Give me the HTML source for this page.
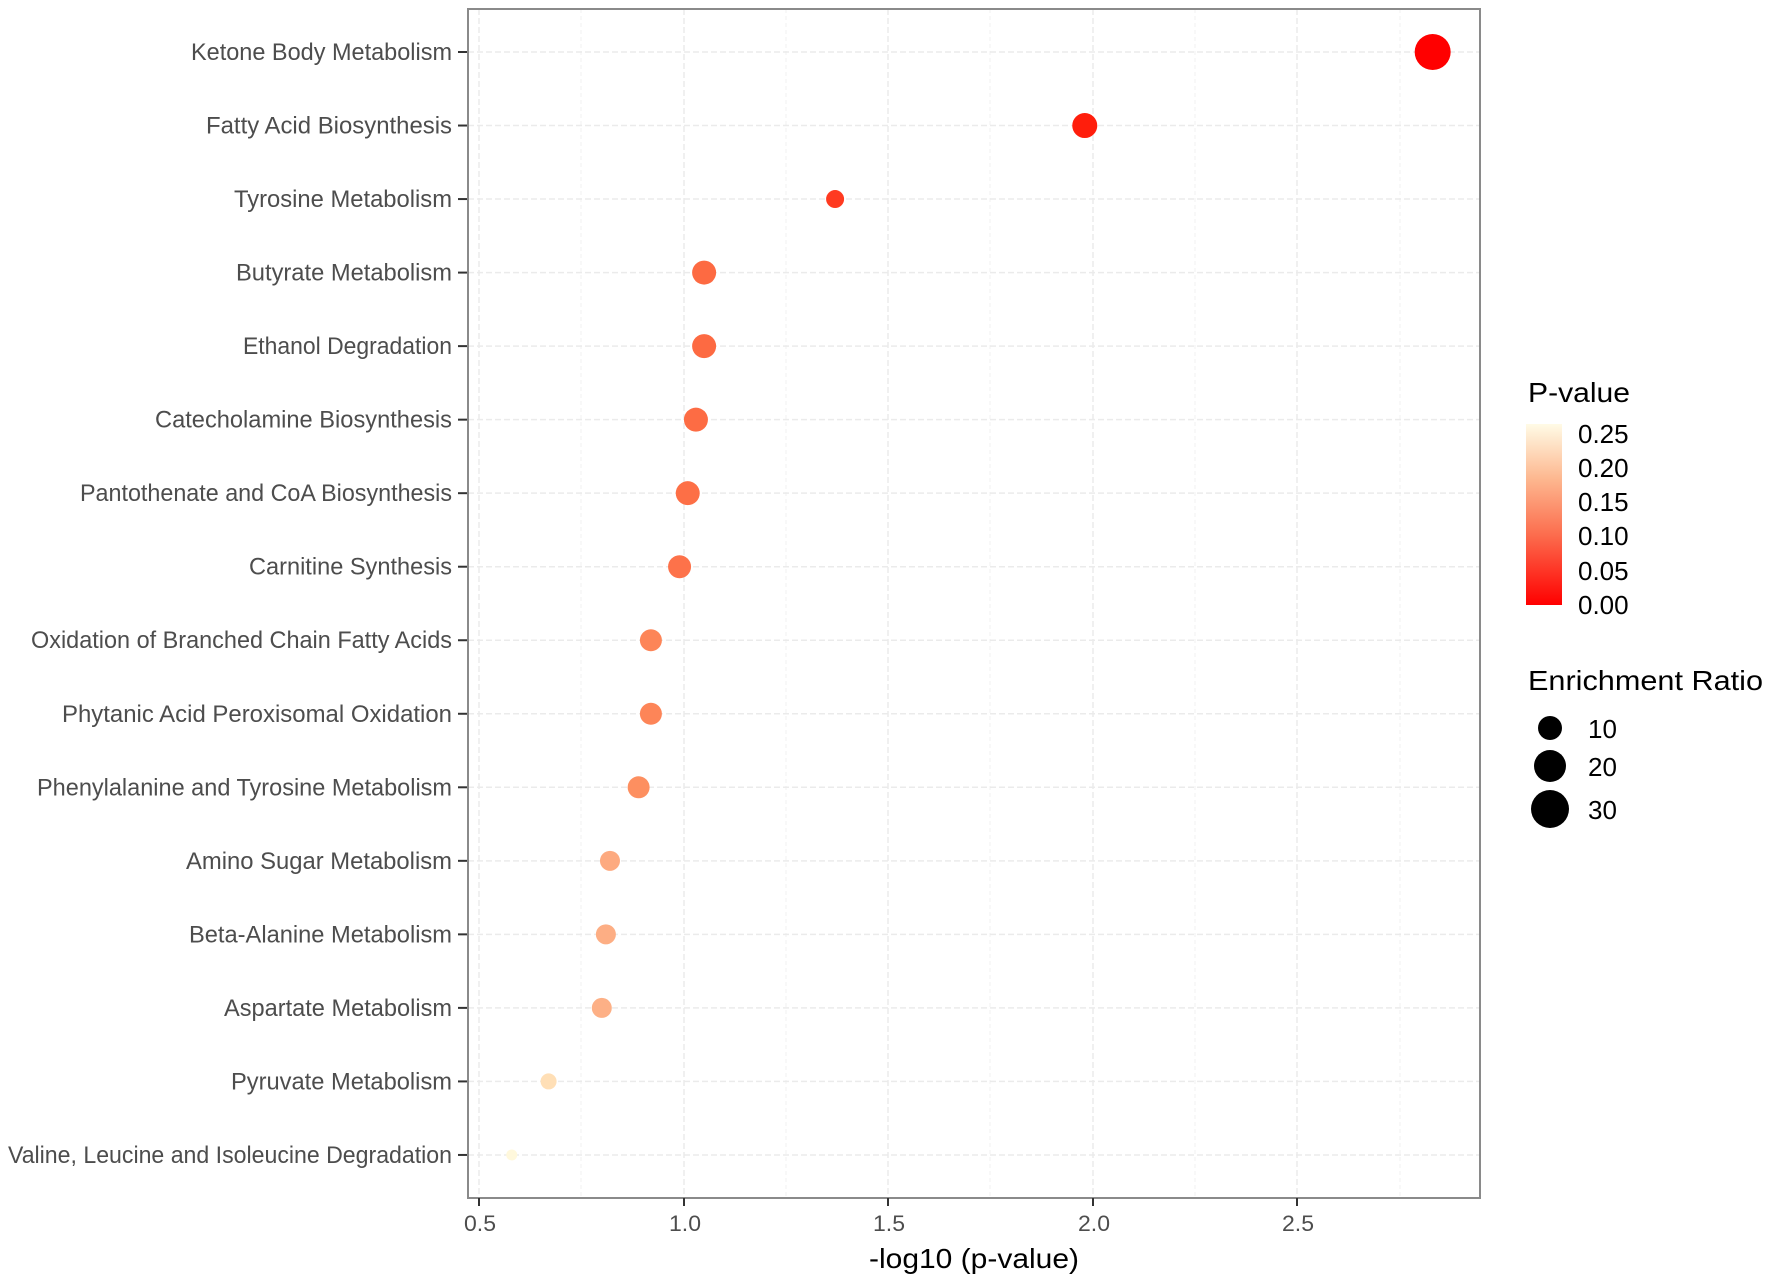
<!DOCTYPE html>
<html><head><meta charset="utf-8"><style>html,body{margin:0;padding:0;background:#fff}svg{display:block}</style></head>
<body>
<svg width="1772" height="1284" viewBox="0 0 1772 1284" xmlns="http://www.w3.org/2000/svg" font-family="'Liberation Sans', sans-serif">
<defs>
<linearGradient id="g" x1="0" y1="1" x2="0" y2="0">
<stop offset="0" stop-color="#ff0000"/><stop offset="0.4" stop-color="#fc7050"/><stop offset="0.7" stop-color="#fdb890"/><stop offset="1" stop-color="#fffbe6"/>
</linearGradient>
</defs>
<rect x="468" y="9" width="1012" height="1189" fill="#fff"/>
<g stroke="#f2f2f2" stroke-width="1.2" stroke-dasharray="4,3">
<line x1="581" y1="9" x2="581" y2="1198"/><line x1="786" y1="9" x2="786" y2="1198"/><line x1="990" y1="9" x2="990" y2="1198"/><line x1="1195" y1="9" x2="1195" y2="1198"/><line x1="1400" y1="9" x2="1400" y2="1198"/>
</g>
<g stroke="#ebebeb" stroke-width="1.5" stroke-dasharray="6,3">
<line x1="479" y1="9" x2="479" y2="1198"/><line x1="684" y1="9" x2="684" y2="1198"/><line x1="888" y1="9" x2="888" y2="1198"/><line x1="1093" y1="9" x2="1093" y2="1198"/><line x1="1297" y1="9" x2="1297" y2="1198"/>
</g>
<g stroke="#ebebeb" stroke-width="1.5" stroke-dasharray="6,3" id="hg"></g>
<g id="pts"></g>
<rect x="468" y="9" width="1012" height="1189" fill="none" stroke="#8a8a8a" stroke-width="2"/>
<g stroke="#333" stroke-width="2">
<line x1="479" y1="1198" x2="479" y2="1206"/><line x1="684" y1="1198" x2="684" y2="1206"/><line x1="888" y1="1198" x2="888" y2="1206"/><line x1="1093" y1="1198" x2="1093" y2="1206"/><line x1="1297" y1="1198" x2="1297" y2="1206"/>
</g>
<g fill="#4d4d4d" font-size="22" text-anchor="middle">
<text x="480" y="1231" textLength="32" lengthAdjust="spacingAndGlyphs">0.5</text>
<text x="685" y="1231" textLength="32" lengthAdjust="spacingAndGlyphs">1.0</text>
<text x="889" y="1231" textLength="32" lengthAdjust="spacingAndGlyphs">1.5</text>
<text x="1094" y="1231" textLength="32" lengthAdjust="spacingAndGlyphs">2.0</text>
<text x="1298" y="1231" textLength="32" lengthAdjust="spacingAndGlyphs">2.5</text>
</g>
<text x="974" y="1268" font-size="28" fill="#000" text-anchor="middle" textLength="210" lengthAdjust="spacingAndGlyphs">-log10 (p-value)</text>
<g id="labs" fill="#4d4d4d" font-size="24" text-anchor="end"></g>
<text x="1528" y="402" font-size="28" fill="#000" textLength="102" lengthAdjust="spacingAndGlyphs">P-value</text>
<rect x="1526" y="424" width="36" height="181" fill="url(#g)"/>
<g fill="#000" font-size="26">
<text x="1578" y="443">0.25</text><text x="1578" y="477">0.20</text><text x="1578" y="511">0.15</text><text x="1578" y="545">0.10</text><text x="1578" y="580">0.05</text><text x="1578" y="614">0.00</text>
</g>
<text x="1528" y="690" font-size="28" fill="#000" textLength="235" lengthAdjust="spacingAndGlyphs">Enrichment Ratio</text>
<circle cx="1550" cy="728" r="12"/><circle cx="1550" cy="766" r="16"/><circle cx="1550" cy="809" r="19"/>
<g fill="#000" font-size="26"><text x="1588" y="738">10</text><text x="1588" y="776">20</text><text x="1588" y="819">30</text></g>
<script>
var d=[["Ketone Body Metabolism",169,2.83,18,"#ff0000"],["Fatty Acid Biosynthesis",182,1.98,12.5,"#ff1e0c"],["Tyrosine Metabolism",207,1.37,9,"#ff3a20"],["Butyrate Metabolism",209,1.05,12,"#fd6a42"],["Ethanol Degradation",215,1.05,12,"#fd6a42"],["Catecholamine Biosynthesis",137,1.03,12,"#fd6c44"],["Pantothenate and CoA Biosynthesis",71,1.01,12,"#fd6f46"],["Carnitine Synthesis",220,0.99,11.5,"#fd724a"],["Oxidation of Branched Chain Fatty Acids",27,0.92,11,"#fd8558"],["Phytanic Acid Peroxisomal Oxidation",55,0.92,11,"#fd8558"],["Phenylalanine and Tyrosine Metabolism",33,0.89,11,"#fd8f60"],["Amino Sugar Metabolism",165,0.82,10,"#fdaa80"],["Beta-Alanine Metabolism",167,0.81,10,"#fdae84"],["Aspartate Metabolism",198,0.80,10,"#fdb086"],["Pyruvate Metabolism",204,0.67,8,"#ffdfb6"],["Valine, Leucine and Isoleucine Degradation",7,0.58,5.5,"#fff8dc"]];
var NS="http://www.w3.org/2000/svg",hg=document.getElementById("hg"),pts=document.getElementById("pts"),labs=document.getElementById("labs"),svg=document.querySelector("svg");
function el(n,a,p){var e=document.createElementNS(NS,n);for(var k in a)e.setAttribute(k,a[k]);p.appendChild(e);return e;}
d.forEach(function(r,i){var y=52+i*73.53;
el("line",{x1:468,x2:1480,y1:y,y2:y},hg);
el("line",{x1:458,x2:467,y1:y,y2:y,stroke:"#333","stroke-width":2},svg);
el("circle",{cx:479+(r[2]-0.5)*409.3,cy:y,r:r[3],fill:r[4]},pts);
var t=el("text",{x:452,y:y+8,textLength:Math.round((400-r[1])*1.13),lengthAdjust:"spacingAndGlyphs"},labs);t.textContent=r[0];});
</script>
</svg>
</body></html>
